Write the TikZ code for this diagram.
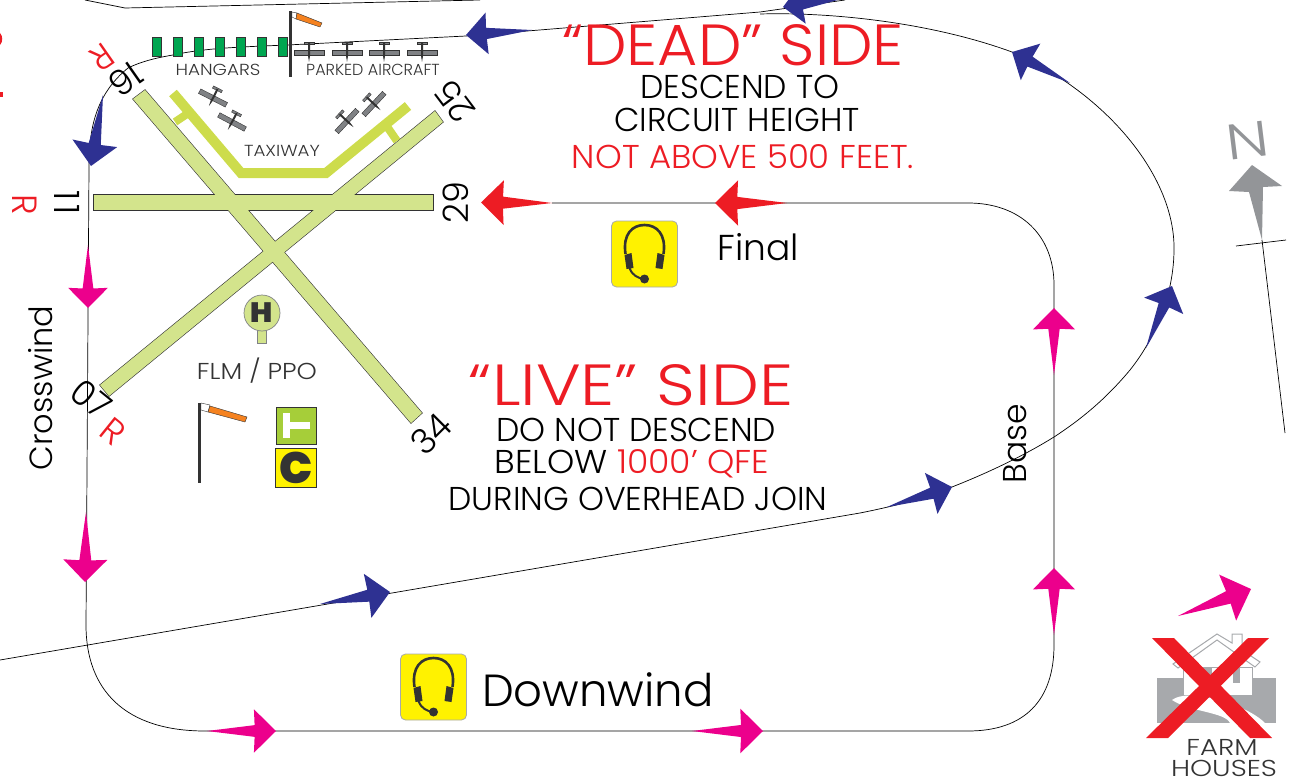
\documentclass[tikz,border=0pt]{standalone}
\usepackage{fontspec}
\setmainfont[UprightFont=* Light]{Poppins}
\newfontfamily\boldgeo{Poppins}[UprightFont=* Black]
\usetikzlibrary{calc}
\definecolor{navy}{HTML}{2E3192}
\definecolor{rred}{HTML}{ED1C24}
\definecolor{pink}{HTML}{EC008C}
\definecolor{rwy}{HTML}{D3E48C}
\definecolor{twy}{HTML}{CDDC4C}
\definecolor{hgr}{HTML}{00A651}
\definecolor{dgray}{HTML}{333333}
\definecolor{mgray}{HTML}{808285}
\definecolor{lgray}{HTML}{A7A9AC}
\definecolor{ngray}{HTML}{939598}
\definecolor{sock}{HTML}{F58220}
\definecolor{yel}{HTML}{FFF200}
\definecolor{tgreen}{HTML}{A6CE39}
\newcommand{\barb}[5]{%
  \pgfmathsetmacro{\ddx}{#4-#2}\pgfmathsetmacro{\ddy}{#5-#3}%
  \fill[#1] (#2,#3)
    -- ({#2+.69*\ddx-.085*\ddy},{#3+.69*\ddy+.085*\ddx})
    -- ({#2+.68*\ddx-.315*\ddy},{#3+.68*\ddy+.315*\ddx})
    -- (#4,#5)
    -- ({#2+.68*\ddx+.315*\ddy},{#3+.68*\ddy-.315*\ddx})
    -- ({#2+.69*\ddx+.085*\ddy},{#3+.69*\ddy-.085*\ddx})
    -- cycle;}
\tikzset{
  x=1pt,y=-1pt,
  route/.style={draw=black,line width=.7pt},
  rwyshape/.style={draw=dgray,line width=1.2pt},
  rwyfill/.style={fill=rwy},
  small/.style={inner sep=0pt,text=dgray,font=\fontsize{16}{18}\selectfont},
  rnum/.style={inner sep=0pt,text=black,font=\fontsize{35}{38}\selectfont},
  rr/.style={inner sep=0pt,text=rred,font=\fontsize{35}{38}\selectfont},
  bigr/.style={inner sep=0pt,text=rred,font=\fontsize{58}{60}\selectfont},
  mid/.style={inner sep=0pt,text=black,font=\fontsize{33}{36}\selectfont},
  hangar/.style={fill=hgr,draw=dgray,line width=.4pt},
  pics/plane/.style={code={
    \fill[mgray,draw=dgray,line width=.4pt] (-15,-2.5) rectangle (15,2.5);
    \fill[mgray,draw=dgray,line width=.4pt] (-5,-11) rectangle (5,-8.5);
    \fill[dgray] (-1,-10) -- (1,-10) -- (1,3) -- (0,9) -- (-1,3) -- cycle;
  }},
  pics/headset/.style={code={
    \fill[yel,draw=lgray,line width=.8pt,rounded corners=5pt] (-33,-33) rectangle (33,33);
    \draw[dgray,line width=2.6pt] (-19,0) .. controls (-22,-20) and (-12,-29) .. (0,-29) .. controls (12,-29) and (22,-20) .. (19,0);
    \fill[dgray] (-20,1) -- (-13,-1) -- (-11,14) -- (-18,15) -- cycle;
    \fill[dgray] (20,1) -- (13,-1) -- (11,14) -- (18,15) -- cycle;
    \draw[dgray,line width=2pt] (-15,14) .. controls (-12,22) and (-6,24) .. (-1,25);
    \fill[dgray] (0,25) circle (4.5);
  }}
}
\begin{document}
\begin{tikzpicture}
\useasboundingbox (0,0) rectangle (1310,784);
% outside lines
\draw[route] (85,0) -- (125,8) -- (480,0);
\coordinate (nBase) at (1262,240);
\coordinate (nEnd) at (1285,433);
\coordinate (tickA) at (1236,246);
\coordinate (tickB) at (1286,240);
\draw[route] (nBase) -- (nEnd);
\draw[route] (tickA) -- (tickB);
% circuit
\draw[route] (845,0) -- (760,12) -- (466,36) -- (287,45)
  .. controls (240,47) and (205,48) .. (173,55)
  .. controls (155,58) and (140,62) .. (128,68)
  .. controls (95,95) and (89,130) .. (89,167)
  -- (86,625) .. controls (86,690) and (125,731) .. (205,731)
  -- (968,731) .. controls (1025,731) and (1054,700) .. (1054,645)
  -- (1054,285) .. controls (1054,235) and (1020,203) .. (968,203)
  -- (552,203);
\draw[route] (760,14) .. controls (830,12) and (930,22) .. (1012,52)
  .. controls (1100,90) and (1172,170) .. (1174,245)
  .. controls (1175,300) and (1150,345) .. (1130,370)
  .. controls (1105,400) and (1080,420) .. (1054,437)
  .. controls (1025,455) and (990,472) .. (952,487)
  .. controls (920,500) and (890,507) .. (860,513)
  -- (0,660);
% runways
\coordinate (r1a) at (94,195);\coordinate (r1b) at (433,195);\coordinate (r1c) at (433,210);\coordinate (r1d) at (94,210);
\coordinate (r2a) at (133,99);\coordinate (r2b) at (145,90);\coordinate (r2c) at (422,413);\coordinate (r2d) at (411,423);
\coordinate (r3a) at (435,111);\coordinate (r3b) at (443,122);\coordinate (r3c) at (109,396);\coordinate (r3d) at (100,385);
\draw[rwyshape] (r1a)--(r1b)--(r1c)--(r1d)--cycle;
\draw[rwyshape] (r2a)--(r2b)--(r2c)--(r2d)--cycle;
\draw[rwyshape] (r3a)--(r3b)--(r3c)--(r3d)--cycle;
\fill[rwyfill] (r1a)--(r1b)--(r1c)--(r1d)--cycle;
\fill[rwyfill] (r2a)--(r2b)--(r2c)--(r2d)--cycle;
\fill[rwyfill] (r3a)--(r3b)--(r3c)--(r3d)--cycle;
% taxiway
\draw[twy,line width=10pt,miter limit=10] (173,93) -- (241,173) -- (326,173) -- (408,106);
\draw[twy,line width=8pt] (175,122) -- (187,114);
\draw[twy,line width=8pt] (388,128) -- (397,141);
% hangars
\foreach \hx in {152,173,194,215,236,257,278}
  \draw[hangar] (\hx,37.5) rectangle ++(9.5,18.5);
% windsock top
\fill[dgray] (289,11) rectangle (292,77);
\fill[white,draw=dgray,line width=.4pt] (292,12) -- (297,13) -- (296,19) -- (292,17) -- cycle;
\fill[sock,draw=dgray,line width=.4pt] (297,13) -- (322,23) -- (320,27) -- (296,19) -- cycle;
% parked aircraft
\foreach \px in {309,347,384,422} \pic at (\px,53) {plane};
\pic[rotate=-27] at (213,98) {plane};
\pic[rotate=-28] at (232,122) {plane};
\pic[rotate=47] at (347,121) {plane};
\pic[rotate=47] at (374,104) {plane};
% windsock lower
\fill[dgray] (198,403) rectangle (201,483);
\fill[white,draw=dgray,line width=.4pt] (201,403) -- (210,405) -- (208,412) -- (201,410) -- cycle;
\fill[sock,draw=dgray,line width=.4pt] (210,406) -- (247,417) -- (245,422) -- (208,412) -- cycle;
% helipad
\draw[fill=rwy,draw=mgray,line width=.7pt] (257,329) rectangle (266,343);
\draw[fill=rwy,draw=mgray,line width=.7pt] (262,313) circle (18);
\node[inner sep=0pt,xscale=1.05,font=\boldgeo\fontsize{28}{28}\selectfont,text=dgray] (hlet) at (262,313) {H};
% T and C signals
\draw[fill=tgreen,draw=dgray,line width=.7pt] (276,407) rectangle (316,444);
\fill[white] (283,413) rectangle (290,438);
\fill[white] (290,422) rectangle (310,429);
\draw[fill=yel,draw=dgray,line width=.7pt] (275,448) rectangle (316,487);
\node[inner sep=0pt,font=\boldgeo\fontsize{44}{44}\selectfont,text=dgray] (clet) at (296,468) {C};
% headsets
\pic at (644.5,254) {headset};
\pic at (433.5,687) {headset};
% farm
\fill[lgray] (1157,678) rectangle (1276,723);
\draw[fill=white,draw=lgray,line width=1pt] (1183,667) rectangle (1252,695);
\fill[lgray] (1200,668) rectangle (1212,685);
\fill[lgray] (1233,668) rectangle (1240,683);
\draw[fill=white,draw=lgray,line width=1pt] (1173,664) -- (1217,634) -- (1232,643) -- (1232,634) -- (1242,634) -- (1242,650) -- (1260,662) -- (1255,667) -- (1217,640) -- (1178,668) -- cycle;
\fill[white] (1172,700) .. controls (1180,694) and (1195,695) .. (1205,697) .. controls (1220,700) and (1250,708) .. (1265,723) -- (1230,723) .. controls (1225,712) and (1190,712) .. (1172,700) -- cycle;
% red X
\fill[rred] (1152,638) -- (1174,638) -- (1272,738) -- (1250,738) -- cycle;
\fill[rred] (1248,638) -- (1269,638) -- (1168,738) -- (1146,738) -- cycle;
% cropped letters at left edge
\fill[rred] (0,33) .. controls (3,36) and (3,42) .. (0,45) -- cycle;
\fill[rred] (0,92) rectangle (3,97);
% north
\fill[ngray] (nBase) -- (1249,192) -- (1229,191) -- (1252,165) -- (1282,186) -- (1263,187) -- cycle;
% arrows
\barb{navy}{103}{95}{91}{166}
\barb{navy}{532}{30}{466}{35}
\barb{navy}{845}{-2}{783}{7}
\barb{navy}{1070}{83}{1012}{52}
\barb{navy}{1146}{348}{1172}{286}
\barb{navy}{887}{507}{952}{487}
\barb{navy}{320}{604}{390}{592}
\barb{rred}{552}{203}{481}{202.5}
\barb{rred}{787}{203}{715}{203}
\barb{pink}{88}{245}{88}{308}
\barb{pink}{86}{512}{85}{582}
\barb{pink}{207}{731}{276}{731}
\barb{pink}{692}{731}{763}{731}
\barb{pink}{1054}{375}{1054}{308}
\barb{pink}{1054}{635}{1054}{568}
\barb{pink}{1178}{616}{1251}{589}
% labels
\node[small,xscale=1.15] (hangars) at (218,70) {HANGARS};
\node[small] (parked) at (373,70) {PARKED AIRCRAFT};
\node[small,xscale=1.14] (taxi) at (282,151) {TAXIWAY};
\node[small,xscale=1.12,font=\fontsize{23}{24}\selectfont] (flm) at (257,371) {FLM / PPO};
\node[rnum,rotate=215] (n16) at (126,79) {16};
\node[rr,rotate=215] (r16) at (102,57) {R};
\node[rnum,rotate=-90] (n11) at (67,203) {1\kern4pt 1};
\node[rr,rotate=-90] (r11) at (25,205) {R};
\node[rnum,rotate=90] (n29) at (456,203) {29};
\node[rnum,rotate=127] (n25) at (455,102) {25};
\node[rnum,rotate=-39] (n07) at (91,399) {07};
\node[rr,rotate=-39] (r07) at (113,431) {R};
\node[rnum,rotate=45] (n34) at (431,434) {34};
\node[bigr,xscale=1.065] (dead) at (733,45) {“DEAD” SIDE};
\node[mid] (d1) at (740,87) {DESCEND TO};
\node[mid] (d2) at (737,120) {CIRCUIT HEIGHT};
\node[mid,text=rred,xscale=1.03] (d3) at (743,157) {NOT ABOVE 500 FEET.};
\node[bigr,xscale=1.17] (live) at (631,385) {“LIVE” SIDE};
\node[mid] (l1) at (636,430) {DO NOT DESCEND};
\node[mid,xscale=1.05] (l2) at (632,464) {BELOW \textcolor{rred}{1000' QFE}};
\node[mid] (l3) at (638,499) {DURING OVERHEAD JOIN};
\node[mid,font=\fontsize{36}{38}\selectfont] (final) at (758,247) {Final};
\node[mid,font=\fontsize{45}{48}\selectfont] (down) at (598,690) {Downwind};
\node[mid,rotate=90] (base) at (1015,444) {Base};
\node[mid,rotate=90,font=\fontsize{32}{34}\selectfont] (cross) at (41,388) {Crosswind};
\node[small,xscale=1.2,font=\fontsize{23}{25}\selectfont] (farm) at (1222,747) {FARM};
\node[small,xscale=1.22,font=\fontsize{23}{25}\selectfont] (houses) at (1224,768) {HOUSES};
\node[inner sep=0pt,text=ngray,rotate=7,xscale=1.25,font=\fontsize{50}{50}\selectfont] (nlet) at (1248,141) {N};
\end{tikzpicture}
\end{document}
